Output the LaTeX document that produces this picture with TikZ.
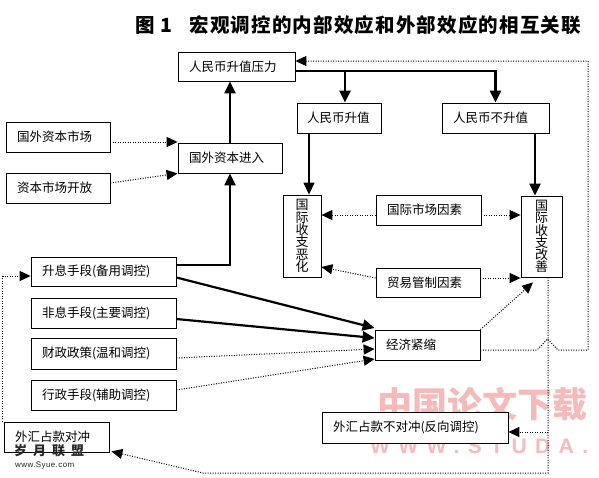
\documentclass[tikz,border=0pt]{standalone}
\usepackage{fontspec}
\setmainfont{Noto Sans CJK SC}
\newfontfamily\titlefont[LetterSpace=6]{Noto Sans CJK SC}
\newfontfamily\wmlat[LetterSpace=40]{Liberation Sans}
\usetikzlibrary{arrows.meta}
\definecolor{wmpink}{RGB}{246,186,186}
\begin{document}
\begin{tikzpicture}[x=1pt,y=-1pt,
  bx/.style={draw, line width=0.8pt, fill=white, inner xsep=11pt, inner ysep=0pt, align=left, font=\fontsize{12.5}{14}\selectfont},
  vbx/.style={draw, line width=0.8pt, fill=white, inner sep=0pt, align=center, font=\fontsize{13}{12.3}\selectfont, minimum height=82pt},
  tip/.style={-{Triangle[length=12pt,width=11pt]}},
  thk/.style={line width=2.2pt, tip},
  thn/.style={line width=1.3pt, tip},
  dotl/.style={line width=1pt, dash pattern=on 1pt off 1.5pt},
  dot/.style={dotl, -{Triangle[length=11pt,width=10pt]}},
]
\useasboundingbox (0,0) rectangle (599,477);

% watermark (behind)
\node[text=wmpink, font=\fontsize{35}{36}\selectfont\bfseries, anchor=west, inner sep=0pt] (wmcn) at (377,404) {中国论文下载};
\node[text=wmpink, font=\wmlat\fontsize{21}{21}\selectfont\bfseries, anchor=west, inner sep=0pt] (wmen) at (370,446) {WWW.STUDA.};

% title
\node[anchor=west, inner sep=0pt, font=\titlefont\fontsize{19.5}{20}\selectfont\bfseries] (title) at (135,25) {图\hspace{6pt}1\hspace{17pt}宏观调控的内部效应和外部效应的相互关联};

% boxes
\node[bx, text width=95pt, minimum height=29pt] (A) at (236.5,66.5) {人民币升值压力};
\node[bx, text width=64pt, inner xsep=10pt, minimum height=30pt] (B) at (339,118) {人民币升值};
\node[bx, text width=85pt, minimum height=30pt] (C) at (495.5,118) {人民币不升值};
\node[bx, text width=82pt, minimum height=30pt] (D) at (58,137) {国外资本市场};
\node[bx, text width=82pt, minimum height=30pt] (E) at (58,188) {资本市场开放};
\node[bx, text width=82pt, minimum height=30pt] (F) at (230,158) {国外资本进入};
\node[vbx, minimum width=38pt] (G) at (302,236) {国\\际\\收\\支\\恶\\化};
\node[vbx, minimum width=41pt, minimum height=81pt] (H) at (541.5,236.5) {国\\际\\收\\支\\改\\善};
\node[bx, text width=83pt, minimum height=30pt] (I) at (428.5,210) {国际市场因素};
\node[bx, text width=82pt, minimum height=29pt] (J) at (428,282.5) {贸易管制因素};
\node[bx, text width=123pt, minimum height=29pt] (K) at (103.5,271.5) {升息手段(备用调控)};
\node[bx, text width=123pt, minimum height=30pt] (L) at (103.5,313) {非息手段(主要调控)};
\node[bx, text width=123pt, minimum height=31pt] (M) at (103.5,353.5) {财政政策(温和调控)};
\node[bx, text width=123pt, minimum height=30pt] (N) at (103.5,395) {行政手段(辅助调控)};
\node[bx, text width=83pt, minimum height=30pt] (P) at (427.5,345) {经济紧缩};
\node[bx, text width=164pt, minimum height=31pt] (Q) at (415,427.5) {外汇占款不对冲(反向调控)};
\node[bx, text width=83pt, minimum height=30pt] (O) at (56.5,437) {外汇占款对冲};

% helper coordinates
\coordinate (a1) at ([yshift=-4.5pt]A.east);
\coordinate (bt) at ([xshift=6pt]B.north);
\coordinate (gt) at ([xshift=7pt]G.north);
\coordinate (ht) at ([xshift=-6.5pt]H.north);
\coordinate (hb) at ([xshift=6.5pt]H.south);
\coordinate (hp) at ([xshift=-8.5pt,yshift=-5pt]H.south);
\coordinate (r1) at (588,350);
\coordinate (r2) at (588,61);
\coordinate (b1) at (548,473);
\coordinate (b2) at (203,473);
\coordinate (ol) at ([xshift=-1pt]O.north west);
\coordinate (qa) at ([yshift=-4.5pt]Q.east);

% solid connectors
\draw[thk] (F.north) -- (F.north |- A.south);
\draw[thk] (a1) -| (C.north);
\draw[thk] (a1 -| bt) -- (bt);
\draw[thn] (gt |- B.south) -- (gt);
\draw[thk] (ht |- C.south) -- (ht);
\draw[thk] ([yshift=6.5pt]K.east) -| (F.south);
\draw[thk] ([yshift=-6pt]K.east) -- ([yshift=17pt]P.west);
\draw[thk] ([yshift=-6pt]L.east) -- ([yshift=7pt]P.west);

% dotted connectors
\draw[dot] ([yshift=-4.5pt]M.east) -- ([yshift=-4pt]P.west);
\draw[dot] ([yshift=5pt]N.east) -- ([yshift=-14pt]P.west);
\draw[dot] ([yshift=-5pt]D.east) -- ([yshift=-5pt]D.east -| F.west);
\draw[dot] ([yshift=5pt]E.east) -- (F.south west);
\draw[dot] ([yshift=-5pt]I.west) -- ([yshift=-5pt]I.west -| G.east);
\draw[dot] ([yshift=-5pt]I.east) -- ([yshift=-5pt]I.east -| H.west);
\draw[dot] ([yshift=4.5pt]J.west) -- ([yshift=-31pt]G.east);
\draw[dot] ([yshift=4.5pt]J.east) -- ([yshift=4.5pt]J.east -| H.west);
\draw[dot] (P.north east) -- (hp);
\draw[dot] ([yshift=-5pt]P.east) -- (537,350) -- (547.5,339) -- (558,350) -- (r1) -- (r2) -- ([yshift=5.5pt]A.east);
\draw[dot] (hb) -- (b1) -- (b2) -- ([xshift=2pt,yshift=1pt]O.south east);
\draw[dot] (hb |- qa) -- (qa);
\draw[dot] (ol) |- ([yshift=-4.5pt]K.west);

% watermark (front)
\node[anchor=west, inner sep=0pt, text=black!85, font=\fontsize{13}{13}\selectfont\bfseries] (wm3) at (14,451) {岁\hspace{6pt}月\hspace{6pt}联\hspace{6pt}盟};
\node[anchor=west, inner sep=0pt, text=black!85, font=\wmlat\fontsize{8}{9}\selectfont\addfontfeature{LetterSpace=5}] (wm4) at (15,466) {www.Syue.com};
\end{tikzpicture}
\end{document}
